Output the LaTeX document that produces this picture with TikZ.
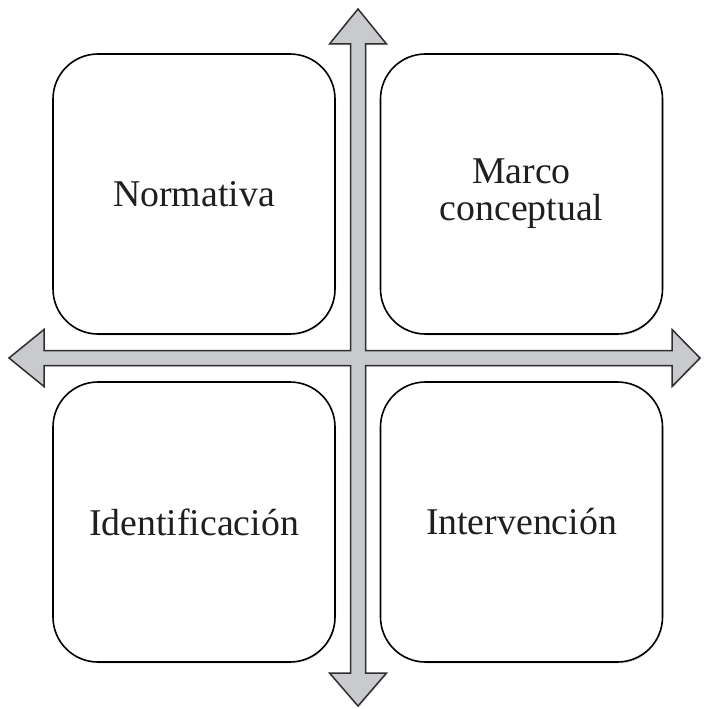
\documentclass[tikz,border=0pt]{standalone}
\usepackage{fontspec}
\setmainfont{Liberation Serif}
\usetikzlibrary{shadows}
\definecolor{arrowgray}{HTML}{C9CACD}
\definecolor{edgegray}{HTML}{2E2E2E}

\begin{document}
\begin{tikzpicture}
[x=1pt,y=-1pt,
 quadrant/.style={draw=black,line width=1.6pt,fill=white,rounded corners=45pt,
   minimum width=282pt,minimum height=280pt,align=center,text=black!88,
   font=\fontsize{37.8}{37}\selectfont,
   drop shadow={shadow xshift=1pt,shadow yshift=-1.5pt,opacity=.18}},
 crossarrow/.style={draw=edgegray,line width=1.5pt,fill=arrowgray,line join=miter,
   drop shadow={shadow xshift=1pt,shadow yshift=-1.5pt,opacity=.18}}]

\useasboundingbox (0,0) rectangle (704,709);

\node[quadrant] (normativa) at (194,194) {Normativa};
\node[quadrant] (marco) at (521.5,194) {Marco\\conceptual};
\node[quadrant] (identificacion) at (194,522) {Identificación};
\node[quadrant] (intervencion) at (521.5,522) {Intervención};

\coordinate (centre) at (358,358);

% cross of double arrows, one outline
\draw[crossarrow] (358,9) -- (386.5,44) -- (365.5,44) -- (365.5,350.5) % up
  -- (672,350.5) -- (672,329.5) -- (700,358) -- (672,386.5) -- (672,365.5) % right
  -- (365.5,365.5) -- (365.5,673) -- (386.5,673) -- (358,706) -- (329.5,673) -- (350.5,673) % down
  -- (350.5,365.5) -- (44,365.5) -- (44,386.5) -- (9,358) -- (44,329.5) -- (44,350.5) % left
  -- (350.5,350.5) -- (350.5,44) -- (329.5,44) -- cycle;
\end{tikzpicture}
\end{document}
